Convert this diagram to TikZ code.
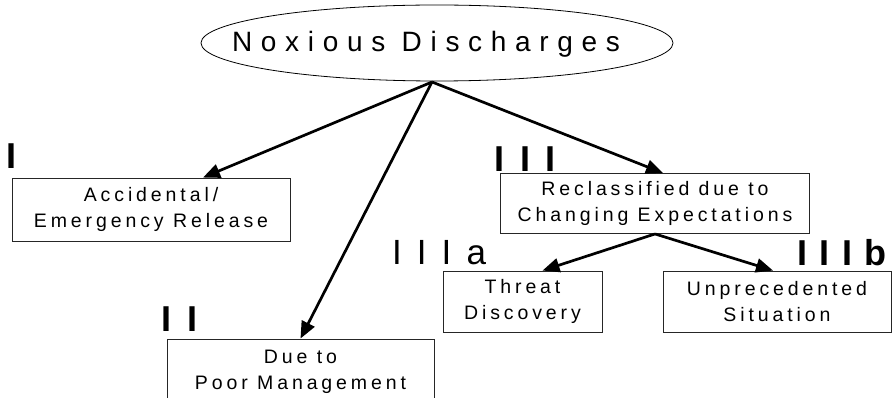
\documentclass[tikz,border=0pt]{standalone}
\usepackage{fontspec}
\setmainfont{Liberation Sans}
\newfontfamily\boxfont[LetterSpace=20]{Liberation Sans}
\newfontfamily\titlefont[LetterSpace=31]{Liberation Sans}
\newfontfamily\numfont[LetterSpace=43]{Liberation Sans}
\newfontfamily\numfontb[LetterSpace=35]{Liberation Sans}
\newfontfamily\numfontc[LetterSpace=44]{Liberation Sans}
\usetikzlibrary{shapes.geometric,arrows.meta,calc}
\begin{document}
\begin{tikzpicture}[x=1pt,y=-1pt,
  box/.style={draw=black!85,line width=0.9pt,rectangle,inner sep=0pt,align=center,
    font=\boxfont\fontsize{19.5}{26}\selectfont},
  conn/.style={line width=2.7pt,-{Triangle[length=17pt,width=14pt]}},
  numlab/.style={anchor=base west,inner sep=0pt,font=\numfont\fontsize{35}{35}\selectfont},
  numlabb/.style={anchor=base west,inner sep=0pt,font=\numfontb\bfseries\fontsize{36}{36}\selectfont},
  numlabc/.style={anchor=base west,inner sep=0pt,font=\numfontc\bfseries\fontsize{36}{36}\selectfont}]
\clip (0,0) rectangle (895,398);
\useasboundingbox (0,0) rectangle (895,398);
\node[draw,line width=0.8pt,ellipse,minimum width=472pt,minimum height=76pt,inner sep=0pt] (top) at (437,43) {};
\node[inner sep=0pt,font=\titlefont\fontsize{28}{28}\selectfont] (toptxt) at (426,44) {Noxious Discharges};
\coordinate (apex) at (432,82);
\node[box,minimum width=278pt,minimum height=63pt] (b1) at (151,209.5) {Accidental/\\Emergency Release};
\node[box,minimum width=309pt,minimum height=60pt] (b3) at (655,203.5) {Reclassified due to\\Changing Expectations};
\node[box,minimum width=159pt,minimum height=61pt] (b3a) at (522.5,301.5) {Threat\\Discovery};
\node[box,minimum width=228pt,minimum height=61pt] (b3b) at (777,301.5) {Unprecedented\\Situation};
\node[box,minimum width=267pt,minimum height=66pt] (b2) at (300.5,372) {Due to\\Poor Management};
\node[numlabc] (l1) at (6,169) {I};
\node[numlabc] (l2) at (161,331) {II};
\node[numlabc] (l3) at (494,172) {III};
\node[numlab] (l3a) at (392,265) {IIIa};
\node[numlabb] (l3b) at (797,266) {IIIb};
\draw[conn] (apex) -- ([xshift=52pt]b1.north);
\draw[conn] (apex) -- (b2.north);
\draw[conn] (apex) -- ([xshift=8pt]b3.north);
\draw[conn] (b3.south) -- ([xshift=20pt]b3a.north);
\draw[conn] (b3.south) -- ([xshift=-4pt]b3b.north);
\end{tikzpicture}
\end{document}
